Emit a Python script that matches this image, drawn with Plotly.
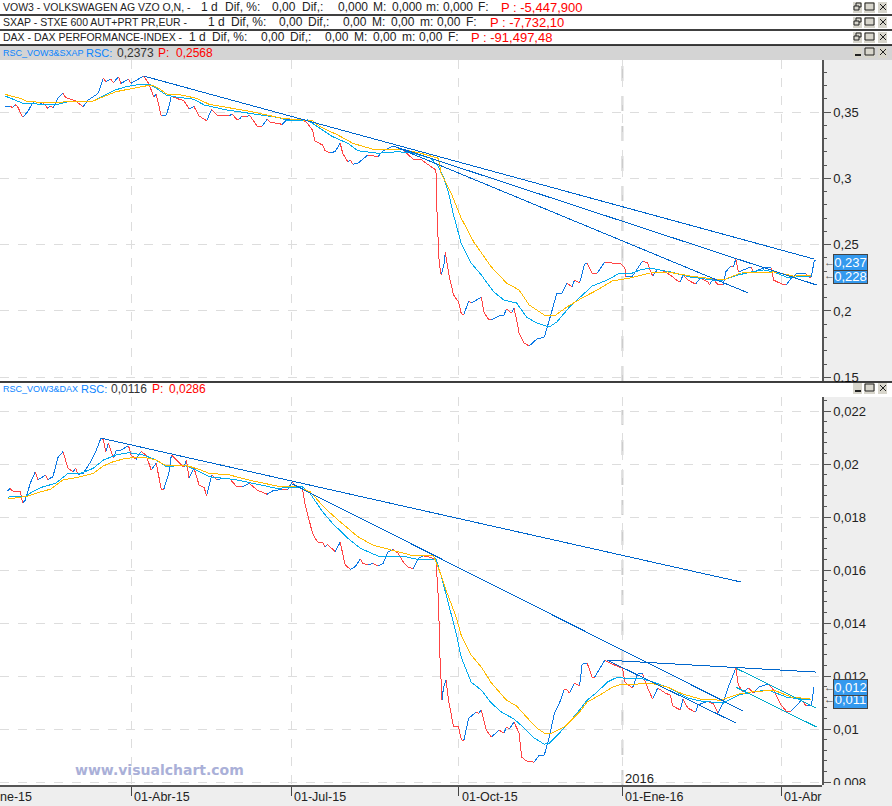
import plotly.graph_objects as go

# ---------- data: x = trading session number, y = relative strength ----------
TICK_SESSIONS = [50, 113.5, 180, 245, 308]
TICK_DATES = ["01-Abr-15", "01-Jul-15", "01-Oct-15", "01-Ene-16", "01-Abr"]

TOP_S = [0,2,3,4,5,7,9,11,12,13,15,17,18,19,21,23,24,26,28,31,33,37,39,40,42,43,45,46,49,50,55,57,59,60,62,64,65,66,68,71,73,75,77,80,82,84,87,89,90,92,93,94,96,97,100,102,104,105,110,112,114,118,120,122,123,126,127,129,131,133,134,136,137,138,140,144,148,150,154,158,162,165,170,171,171.5,172.3,173.1,174.3,174.7,176.3,178,180,181,182,184,185,187,189,190,192,193,196,198,199,201,202,203,204,206,208,211,214,216,219,221,223,225,226,228,230,231,233,235,238,241,244,246,246.4,249,253,255,256,257,259,262,264,267,268,269,271,274,276,279,279.5,281,283,285,286,288,289,290,291,295,296,297,301,304,305,309,310,312,314,316,318,319,320,321,321.6]
TOP_RSC = [.3540,.3545,.3532,.3555,.3540,.3460,.3502,.3570,.3585,.3553,.3570,.3528,.3545,.3532,.3603,.3641,.3611,.3596,.3583,.3540,.3590,.3641,.3754,.3728,.3747,.3721,.3766,.3716,.3747,.3716,.3771,.3716,.3615,.3633,.3470,.3477,.3540,.3621,.3603,.3585,.3525,.3540,.3470,.3434,.3520,.3477,.3470,.3470,.3485,.3445,.3445,.3470,.3465,.3477,.3394,.3394,.3445,.3425,.3407,.3445,.3445,.3445,.3415,.3364,.3281,.3251,.3208,.3193,.3201,.3264,.3189,.3125,.3138,.3106,.3113,.3176,.3163,.3208,.3244,.3213,.3143,.3143,.3075,.3063,.2686,.2361,.2271,.2361,.2444,.2256,.2120,.2067,.1984,.1969,.2075,.2060,.2082,.2105,.1992,.1932,.1932,.1962,.1969,.2015,.1984,.2022,.1932,.1834,.1758,.1736,.1788,.1803,.1932,.2135,.2135,.2211,.2180,.2233,.2211,.2354,.2361,.2286,.2286,.2369,.2361,.2361,.2324,.2256,.2263,.2377,.2361,.2309,.2263,.2316,.2294,.2271,.2226,.2218,.2271,.2233,.2203,.2248,.2218,.2196,.2241,.2196,.2196,.2294,.2339,.2331,.2392,.2294,.2324,.2331,.2294,.2324,.2324,.2233,.2196,.2196,.2248,.2279,.2279,.2279,.2256,.2256,.2369,.2384]

TOP_FAST_S = [0,3,7,13,21,25,35,39,43,48,54,57,60,64,67,75,79,88,98,108,113,120,124,130,136,140,148,156,162,169,172,174,176,178,181,185,189,194,198,203,207,211,216,219,224,229,233,239,244,249,252,256,264,272,281,285,291,296,301,305,310,314,320]
TOP_FAST = [.3621,.3598,.3566,.3560,.3558,.3578,.3583,.3621,.3661,.3691,.3709,.3711,.3679,.3628,.3615,.3596,.3553,.3515,.3485,.3460,.3432,.3440,.3389,.3314,.3264,.3208,.3189,.3201,.3189,.3151,.3088,.3010,.2889,.2723,.2512,.2361,.2271,.2143,.2082,.2060,.1954,.1909,.1879,.1917,.2030,.2120,.2188,.2233,.2286,.2286,.2309,.2324,.2294,.2256,.2233,.2233,.2271,.2294,.2309,.2294,.2256,.2256,.2263]

TOP_SLOW_S = [0,6,9,19,25,35,39,44,51,58,61,64,70,76,81,89,98,110,122,125,132,138,146,157,165,172,173,177,181,186,193,199,204,208,214,218,223,229,235,241,248,256,263,272,280,285,292,305,313,320]
TOP_SLOW = [.3633,.3603,.3578,.3570,.3578,.3583,.3615,.3653,.3679,.3704,.3679,.3636,.3628,.3603,.3558,.3532,.3502,.3452,.3434,.3389,.3327,.3264,.3219,.3219,.3189,.3151,.3040,.2889,.2701,.2520,.2331,.2211,.2158,.2045,.1969,.1962,.2030,.2098,.2158,.2226,.2248,.2286,.2294,.2263,.2248,.2233,.2286,.2294,.2263,.2271]

TOP_TRENDS = [([55, 321], [.3771, .2392]), ([154, 322], [.3244, .2196]), ([154, 295], [.3244, .2135])]
TOP_TICKS = [.35, .3, .25, .2, .15]
TOP_LABELS = ["0,35", "0,3", "0,25", "0,2", "0,15"]

BOT_S = [1,2,3,6,7,8,10,12,13,15,16,17,19,21,23,25,27,28,29,31,34,36,38,39,40,41,43,44,46,49,50,52,54,56,58,60,62,63,65,66,68,71,72,73,75,77,79,80,82,84,86,89,92,94,97,100,104,106,110,112,114,115,118,119,120,122,124,126,127,128,131,133,135,137,139,141,142,144,146,148,150,152,154,156,158,160,162,164,166,168,170,171,172,172.6,173.4,174,175,176,178,180,181,182,184,187,188,189,191,193,196,198,199,200,202,204,205,207,210,212,214,216,218,220,222,223,224,226,228,229,231,233,234,238,241,245,246,249,251,253,255,257,259,262,264,265,268,269,271,274,275,279,280,281,283,285,287,290,291,293,295,297,299,303,305,308,310,312,316,318,320,321]
BOT_RSC = [.01898,.01908,.01898,.01898,.01852,.01864,.01927,.01971,.01940,.01952,.01959,.01942,.01952,.02025,.02047,.01984,.01971,.01984,.01961,.01965,.02009,.02047,.02097,.02091,.02047,.02078,.02022,.02049,.02053,.02069,.02034,.02018,.02047,.02034,.01977,.02003,.01905,.01905,.01965,.02034,.02015,.01988,.02015,.01946,.01984,.01921,.01912,.01880,.01959,.01940,.01946,.01946,.01914,.01914,.01927,.01902,.01886,.01898,.01905,.01902,.01933,.01914,.01908,.01852,.01814,.01739,.01705,.01705,.01688,.01697,.01669,.01705,.01619,.01603,.01613,.01642,.01625,.01619,.01625,.01615,.01625,.01669,.01678,.01663,.01631,.01610,.01606,.01644,.01654,.01650,.01644,.01638,.01487,.01272,.01109,.01158,.01185,.01109,.01008,.01008,.00962,.00955,.01041,.01064,.01060,.01072,.00996,.00970,.00996,.00985,.01008,.01000,.01026,.00985,.00894,.00879,.00875,.00902,.00902,.00970,.01060,.01098,.01151,.01147,.01136,.01174,.01162,.01245,.01249,.01196,.01196,.01260,.01245,.01230,.01177,.01155,.01208,.01208,.01155,.01113,.01155,.01136,.01128,.01087,.01072,.01113,.01079,.01064,.01091,.01106,.01098,.01098,.01060,.01102,.01158,.01230,.01166,.01140,.01155,.01136,.01158,.01170,.01147,.01091,.01068,.01068,.01109,.01087,.01091,.01158]

BOT_FAST_S = [1,3,8,11,15,20,25,30,35,39,44,49,55,60,64,71,76,81,91,98,108,113,118,121,126,130,136,141,148,153,159,165,171,173,176,179,181,185,189,193,197,202,206,210,214,216,220,227,231,235,239,243,248,252,256,263,271,276,285,291,296,303,310,316,320]
BOT_FAST = [.01874,.01879,.01877,.01896,.01914,.01927,.01965,.01965,.01984,.02015,.02034,.02043,.02034,.02015,.01990,.01996,.01977,.01952,.01942,.01927,.01908,.01912,.01914,.01890,.01820,.01776,.01720,.01682,.01653,.01650,.01650,.01638,.01642,.01581,.01476,.01362,.01272,.01177,.01147,.01098,.01064,.01038,.01004,.00966,.00943,.00947,.00985,.01060,.01109,.01140,.01177,.01196,.01189,.01192,.01181,.01158,.01117,.01106,.01098,.01128,.01140,.01147,.01121,.01113,.01113]

BOT_SLOW_S = [1,4,9,13,18,23,30,35,39,43,48,55,60,64,71,76,81,89,98,108,116,121,127,133,140,146,154,162,170,172,175,179,181,185,189,193,199,203,207,211,214,217,222,228,231,236,241,245,251,256,263,269,276,284,291,296,305,312,320]
BOT_SLOW = [.01868,.01873,.01879,.01892,.01905,.01940,.01952,.01965,.01993,.02009,.02022,.02026,.02015,.01993,.01996,.01984,.01965,.01959,.01937,.01917,.01914,.01896,.01833,.01782,.01726,.01694,.01673,.01654,.01654,.01608,.01525,.01423,.01355,.01279,.01234,.01174,.01109,.01087,.01045,.01004,.00985,.00985,.01008,.01064,.01102,.01128,.01158,.01170,.01170,.01174,.01158,.01132,.01113,.01109,.01132,.01140,.01147,.01121,.01113]

BOT_TRENDS = [([38, 292], [.02098, .01555]), ([114, 293], [.01925, .01068]), ([239, 290], [.0126, .01023]), ([239, 322], [.0126, .01215])]
BOT_CYAN_TRENDS = [([290, 322], [.0123, .01079]), ([290, 322], [.01158, .01008])]
BOT_TICKS = [.022, .02, .018, .016, .014, .012, .01, .008]
BOT_LABELS = ["0,022", "0,02", "0,018", "0,016", "0,014", "0,012", "0,01", "0,008"]

ROW_NAMES = ["VOW3 - VOLKSWAGEN AG VZO O,N, -", "SXAP - STXE 600 AUT+PRT PR,EUR -", "DAX - DAX PERFORMANCE-INDEX -"]
ROW_WORDS = [
    ["1 d", "Dif, %:", "0,00", "Dif,:", "0,000", "M:", "0,000", "m:", "0,000", "F:"],
    ["1 d", "Dif, %:", "0,00", "Dif,:", "0,00", "M:", "0,00", "m:", "0,00", "F:"],
    ["1 d", "Dif, %:", "0,00", "Dif,:", "0,00", "M:", "0,00", "m:", "0,00", "F:"],
]
ROW_PRICES = ["P : -5,447,900", "P : -7,732,10", "P : -91,497,48"]

assert len(TOP_S) == len(TOP_RSC) and len(BOT_S) == len(BOT_RSC)
assert len(TOP_FAST_S) == len(TOP_FAST) and len(TOP_SLOW_S) == len(TOP_SLOW)
assert len(BOT_FAST_S) == len(BOT_FAST) and len(BOT_SLOW_S) == len(BOT_SLOW)

# ---------- styles ----------
W, H = 892, 806
RED, BLUE, CYAN, YEL, TREND, TREND2 = "#ff4444", "#0a78e6", "#00aaee", "#ffbb00", "#0066cc", "#00aacc"
GRID = "#dddddd"
FONT = "Liberation Sans"
px = lambda x: x / W
py = lambda y: 1 - y / H
ROW_Y = [7, 22, 37]
ROW_WORD_X = [
    [201, 225, 272, 302, 338, 373, 391.5, 426, 443, 478],
    [208, 231, 279, 308, 343, 372, 391, 420, 437, 466],
    [189, 212, 261, 290, 325, 354, 373, 402, 419, 448],
]
ROW_PRICE_X = [501, 490, 471]


def split_updown(xs, ys):
    """Rising stretches are blue and falling stretches red."""
    up_x, up_y, dn_x, dn_y = [], [], [], []
    last_up = True
    for i in range(1, len(xs)):
        d = ys[i] - ys[i - 1]
        is_up = d > 0 if d != 0 else last_up
        last_up = is_up
        tx, ty = (up_x, up_y) if is_up else (dn_x, dn_y)
        tx += [xs[i - 1], xs[i], None]
        ty += [ys[i - 1], ys[i], None]
    return up_x, up_y, dn_x, dn_y


fig = go.Figure()


def add_line(x, y, color, xa, ya, width=1.0):
    fig.add_trace(go.Scatter(x=x, y=y, mode="lines", line=dict(color=color, width=width),
                             xaxis=xa, yaxis=ya, showlegend=False, hoverinfo="skip",
                             connectgaps=False))


for (s, rsc, fs, fast, ss, slow, trends, xa, ya) in [
    (TOP_S, TOP_RSC, TOP_FAST_S, TOP_FAST, TOP_SLOW_S, TOP_SLOW, TOP_TRENDS, "x", "y"),
    (BOT_S, BOT_RSC, BOT_FAST_S, BOT_FAST, BOT_SLOW_S, BOT_SLOW, BOT_TRENDS, "x2", "y2"),
]:
    ux, uy, dx, dy = split_updown(s, rsc)
    add_line(ux, uy, BLUE, xa, ya)
    add_line(dx, dy, RED, xa, ya)
    add_line(fs, fast, CYAN, xa, ya, 1.0)
    add_line(ss, slow, YEL, xa, ya, 1.0)
    for tx, ty in trends:
        add_line(tx, ty, TREND, xa, ya, 1.0)
for tx, ty in BOT_CYAN_TRENDS:
    add_line(tx, ty, TREND2, "x2", "y2", 1.0)

shapes = []
annots = []


def rect(x0, y0, x1, y1, fill, line=None, layer="above"):
    shapes.append(dict(type="rect", xref="paper", yref="paper", x0=px(x0), x1=px(x1), y0=py(y0), y1=py(y1),
                       fillcolor=fill, line=dict(color=line or fill, width=1 if line else 0), layer=layer))


def hline(y, color="#000000", width=1.5):
    shapes.append(dict(type="line", xref="paper", yref="paper", x0=0, x1=1, y0=py(y), y1=py(y),
                       line=dict(color=color, width=width), layer="above"))


def seg(x0, y0, x1, y1, color="#222222", width=1):
    shapes.append(dict(type="line", xref="paper", yref="paper", x0=px(x0), x1=px(x1), y0=py(y0), y1=py(y1),
                       line=dict(color=color, width=width), layer="above"))


def label(x, y, text, size=12, color="#222222", anchor="left", family=FONT, **kw):
    annots.append(dict(xref="paper", yref="paper", x=px(x), y=py(y), text=text, showarrow=False,
                       xanchor=anchor, yanchor="middle", font=dict(family=family, size=size, color=color),
                       borderpad=0, borderwidth=0, **kw))


# header bands
rect(0, 0, W, 45, "#ffffff")
rect(0, 45, W, 60, "#d4d4d4")
rect(0, 382, W, 397, "#ffffff")
rect(822, 785, W, H, "#eeeeee")
for y in (15, 30, 45, 382):
    hline(y)

for name, words, xs, price, xp, y in zip(ROW_NAMES, ROW_WORDS, ROW_WORD_X, ROW_PRICES, ROW_PRICE_X, ROW_Y):
    label(3, y, name, size=10.5)
    for word, x in zip(words, xs):
        label(x, y, word, size=12)
    label(xp, y, price, size=13, color="#ff0000")


def title(y, name, x_rsc, rsc, x_val, x_p, p, x_pv):
    label(3, y, name, size=9, color="#0a84ff")
    label(x_rsc, y, "RSC:", size=11, color="#0a84ff")
    label(x_val, y, rsc, size=12, color="#333333")
    label(x_p, y, "P:", size=12, color="#ff0000")
    label(x_pv, y, p, size=12, color="#ff0000")


title(53, "RSC_VOW3&amp;SXAP", 86, "0,2373", 117, 158, "0,2568", 176)
title(389, "RSC_VOW3&amp;DAX", 81, "0,0116", 111, 152, "0,0286", 169)


def buttons(y, first):
    c = y - 1
    for a, b in ((853, 862), (864, 875), (878, 887)):
        rect(a, c - 5, b, c + 6, "#d8d6cc")
    if first == "restore":
        shapes.append(dict(type="rect", xref="paper", yref="paper", x0=px(856), x1=px(861), y0=py(c - 4), y1=py(c),
                           line=dict(color="#222222", width=1), layer="above"))
        shapes.append(dict(type="rect", xref="paper", yref="paper", x0=px(854), x1=px(859), y0=py(c - 1), y1=py(c + 3),
                           fillcolor="#d8d6cc", line=dict(color="#222222", width=1), layer="above"))
    else:
        seg(855, c + 3, 861, c + 3, width=2)
    shapes.append(dict(type="rect", xref="paper", yref="paper", x0=px(865), x1=px(874), y0=py(c - 4), y1=py(c + 3),
                       line=dict(color="#222222", width=1), layer="above"))
    seg(880, c - 3, 886, c + 3)
    seg(886, c - 3, 880, c + 3)


for y in (8, 23, 38):
    buttons(y, "restore")
for y in (53, 389):
    buttons(y, "min")

# 2016 separator in both panels
for xa, ya in (("x", "y domain"), ("x2", "y2 domain")):
    shapes.append(dict(type="line", xref=xa, yref=ya, x0=TICK_SESSIONS[3], x1=TICK_SESSIONS[3], y0=0, y1=1,
                       line=dict(color="#cccccc", width=2, dash="longdash"), layer="below"))

# date labels, to the right of their ticks
for s, d in zip(TICK_SESSIONS, TICK_DATES):
    annots.append(dict(xref="x2", yref="paper", x=s, y=py(797), text=d, showarrow=False, xanchor="left",
                       yanchor="middle", xshift=1, font=dict(family=FONT, size=12.5, color="#222222")))
label(0, 797, "ne-15", size=12.5)
annots.append(dict(xref="x2", yref="paper", x=TICK_SESSIONS[3], y=py(778), text="2016", showarrow=False,
                   xanchor="left", yanchor="middle", xshift=1, font=dict(family=FONT, size=13, color="#222222")))

# watermark
label(75, 770, "<b>www.visualchart.com</b>", size=14, color="#aab0d8", family="DejaVu Sans")


# last-value boxes and their arrows
def box(yc, h, text):
    annots.append(dict(xref="paper", yref="paper", x=px(833), y=py(yc), text=text, showarrow=False,
                       xanchor="left", yanchor="middle", width=33, height=h, align="center",
                       bgcolor="#3399ee", bordercolor="#444444", borderwidth=1, borderpad=0,
                       font=dict(family=FONT, size=13, color="#ffffff")))


box(276, 14, "0,228")
box(262, 15, "0,237")
box(699.5, 17, "0,011")
box(687, 15, "0,012")
label(829, 262, "←", size=11, color="#555555", anchor="center")
label(829, 275, "←", size=11, color="#555555", anchor="center")
label(829, 687, "←", size=11, color="#555555", anchor="center")
label(829, 699, "<b>←</b>", size=11, color="#444444", anchor="center")

X_RANGE = [-2, 324.2]
x_common = dict(range=X_RANGE, domain=[0, px(822)], tickmode="array", tickvals=TICK_SESSIONS, automargin=False,
                showticklabels=False, showgrid=True, gridcolor=GRID, griddash="dash", gridwidth=1.2, zeroline=False)
y_common = dict(side="right", showgrid=True, gridcolor=GRID, griddash="dash", gridwidth=1.2, zeroline=False,
                automargin=False, showline=True, linecolor="#555555", linewidth=1.5, ticks="outside", ticklen=7,
                tickcolor="#555555", tickfont=dict(family=FONT, size=13, color="#222222"), tickmode="array")

fig.update_layout(
    width=W, height=H, margin=dict(l=0, r=0, t=0, b=0, pad=0), autosize=False,
    paper_bgcolor="#eeeeee", plot_bgcolor="#ffffff", showlegend=False,
    xaxis=dict(**x_common, anchor="y", ticks=""),
    xaxis2=dict(**x_common, anchor="y2", ticks="outside", ticklen=9, tickcolor="#444444",
                showline=True, linecolor="#555555", linewidth=1.5),
    yaxis=dict(**y_common, domain=[py(381), py(60)], range=[.1472, .3892], anchor="x", tickvals=TOP_TICKS,
               ticktext=TOP_LABELS, minor=dict(dtick=.01, tick0=0, ticks="outside", ticklen=3, tickcolor="#555555")),
    yaxis2=dict(**y_common, domain=[py(785), py(397)], range=[.00789, .02253], anchor="x2", tickvals=BOT_TICKS,
                ticktext=BOT_LABELS, minor=dict(dtick=.0004, tick0=0, ticks="outside", ticklen=3, tickcolor="#555555")),
    shapes=shapes, annotations=annots,
)

# the source chart draws its curves without anti-aliasing
fig.write_html("out.html", config={"displayModeBar": False},
               post_script="document.body.style.margin='0';document.documentElement.style.overflow='hidden';"
                           "document.querySelectorAll('.scatterlayer path').forEach(function(p){p.style.shapeRendering='crispEdges';});")
